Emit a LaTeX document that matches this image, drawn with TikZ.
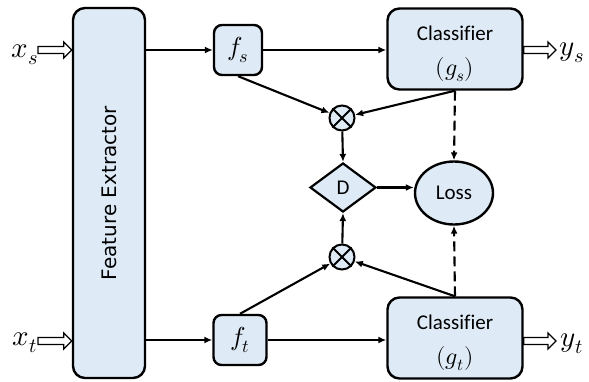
\documentclass[tikz,border=0pt]{standalone}
\usepackage{fontspec}
\usepackage{unicode-math}
\setmainfont{Carlito}[Ligatures=NoCommon]
\setmathfont{Latin Modern Math}
\newfontfamily\fefont{DejaVu Sans}
\usetikzlibrary{shapes.geometric,arrows.meta,calc}
\definecolor{boxfill}{RGB}{222,235,247}

\begin{document}
\begin{tikzpicture}[x=1pt,y=-1pt,
  box/.style={draw, line width=2.4pt, fill=boxfill, rounded corners=10pt, inner sep=0pt, align=center},
  conn/.style={line width=2.1pt, -{Latex[length=8pt,width=7pt]}},
  dashconn/.style={conn, dash pattern=on 10pt off 5pt},
  mult/.style={draw, line width=2pt, fill=boxfill, circle, minimum size=25pt, inner sep=0pt},
  txt/.style={font=\fontsize{21}{35}\selectfont},
  mathlbl/.style={font=\fontsize{29}{30}\selectfont, inner sep=0pt},
  hollow/.style={draw, line width=1.3pt, fill=white,
    to path={let \p1=(\tikztostart), \p2=(\tikztotarget) in
      (\x1,\y1+3.5pt) -- (\x2-8pt,\y1+3.5pt) -- (\x2-8pt,\y1+8pt) -- (\x2,\y1)
      -- (\x2-8pt,\y1-8pt) -- (\x2-8pt,\y1-3.5pt) -- (\x1,\y1-3.5pt) -- cycle}}]
\useasboundingbox (0,0) rectangle (589,381);

% blocks
\node[box, minimum width=72pt, minimum height=370pt, rounded corners=12pt] (fe) at (109,193) {};
\node[rotate=90, font=\fefont\fontsize{20}{24}\selectfont] (fetext) at (fe.center) {Feature Extractor};
\node[box, minimum width=48pt, minimum height=50pt, rounded corners=8pt, font=\fontsize{26}{28}\selectfont] (fs) at (238,50) {$f_s$};
\node[box, minimum width=53pt, minimum height=50pt, rounded corners=8pt, font=\fontsize{26}{28}\selectfont] (ft) at (240,340) {$f_t$};
\node[box, minimum width=135pt, minimum height=81pt, rounded corners=12pt] (cs) at (455,49) {};
\node[box, minimum width=135pt, minimum height=81pt, rounded corners=12pt] (ct) at (455,338) {};
\node[txt, align=center, inner sep=0pt] (cslbl) at ($(cs.center)+(0,5)$)
  {Classif{}ier\\{\fontsize{24}{35}\selectfont$(g_s)$}};
\node[txt, align=center, inner sep=0pt] (ctlbl) at ($(ct.center)+(0,5)$)
  {Classif{}ier\\{\fontsize{24}{35}\selectfont$(g_t)$}};

% combination nodes
\node[mult] (ms) at (342,118) {};
\node[mult] (mt) at (342,257) {};
\draw[line width=1.8pt] (ms.north west) -- (ms.south east) (ms.north east) -- (ms.south west);
\draw[line width=1.8pt] (mt.north west) -- (mt.south east) (mt.north east) -- (mt.south west);

\node[draw, line width=2.2pt, fill=boxfill, diamond, minimum width=66pt, minimum height=49pt, inner sep=0pt, txt] (d) at (343,187.5) {D};
\node[draw, line width=2.4pt, fill=boxfill, ellipse, minimum width=78pt, minimum height=63pt, inner sep=0pt, txt] (loss) at (454,193) {Loss};

% inputs and outputs
\node[mathlbl] (xs) at (25,55) {$x_s$};
\node[mathlbl] (xt) at (25,343) {$x_t$};
\node[mathlbl] (ys) at (572,53) {$y_s$};
\node[mathlbl] (yt) at (572,344) {$y_t$};
\coordinate (xsin) at (38,50);
\coordinate (xtin) at (38,341);
\coordinate (ysout) at (556,50);
\coordinate (ytout) at (556,341);
\path (xsin) edge[hollow] (fe.west |- xsin);
\path (xtin) edge[hollow] (fe.west |- xtin);
\path (cs.east |- ysout) edge[hollow] (ysout);
\path (ct.east |- ytout) edge[hollow] (ytout);

% connectors
\draw[conn] (fe.east |- fs) -- (fs.west);
\draw[conn] (fe.east |- ft) -- (ft.west);
\draw[conn] (fs.east) -- (cs.west |- fs);
\draw[conn] (ft.east) -- (ct.west |- ft);
\draw[conn] (fs.south) -- (ms);
\draw[conn] (cs.south) -- (ms);
\draw[conn] (ft.north) -- (mt);
\draw[conn] (ct.north) -- (mt);
\draw[conn] (ms) -- (d.north);
\draw[conn] (mt) -- (d.south);
\draw[conn] (d.east) -- (loss.west |- d.east);
\draw[dashconn] (cs.south) -- (loss.north);
\draw[dashconn] (ct.north) -- (loss.south);
\end{tikzpicture}
\end{document}
